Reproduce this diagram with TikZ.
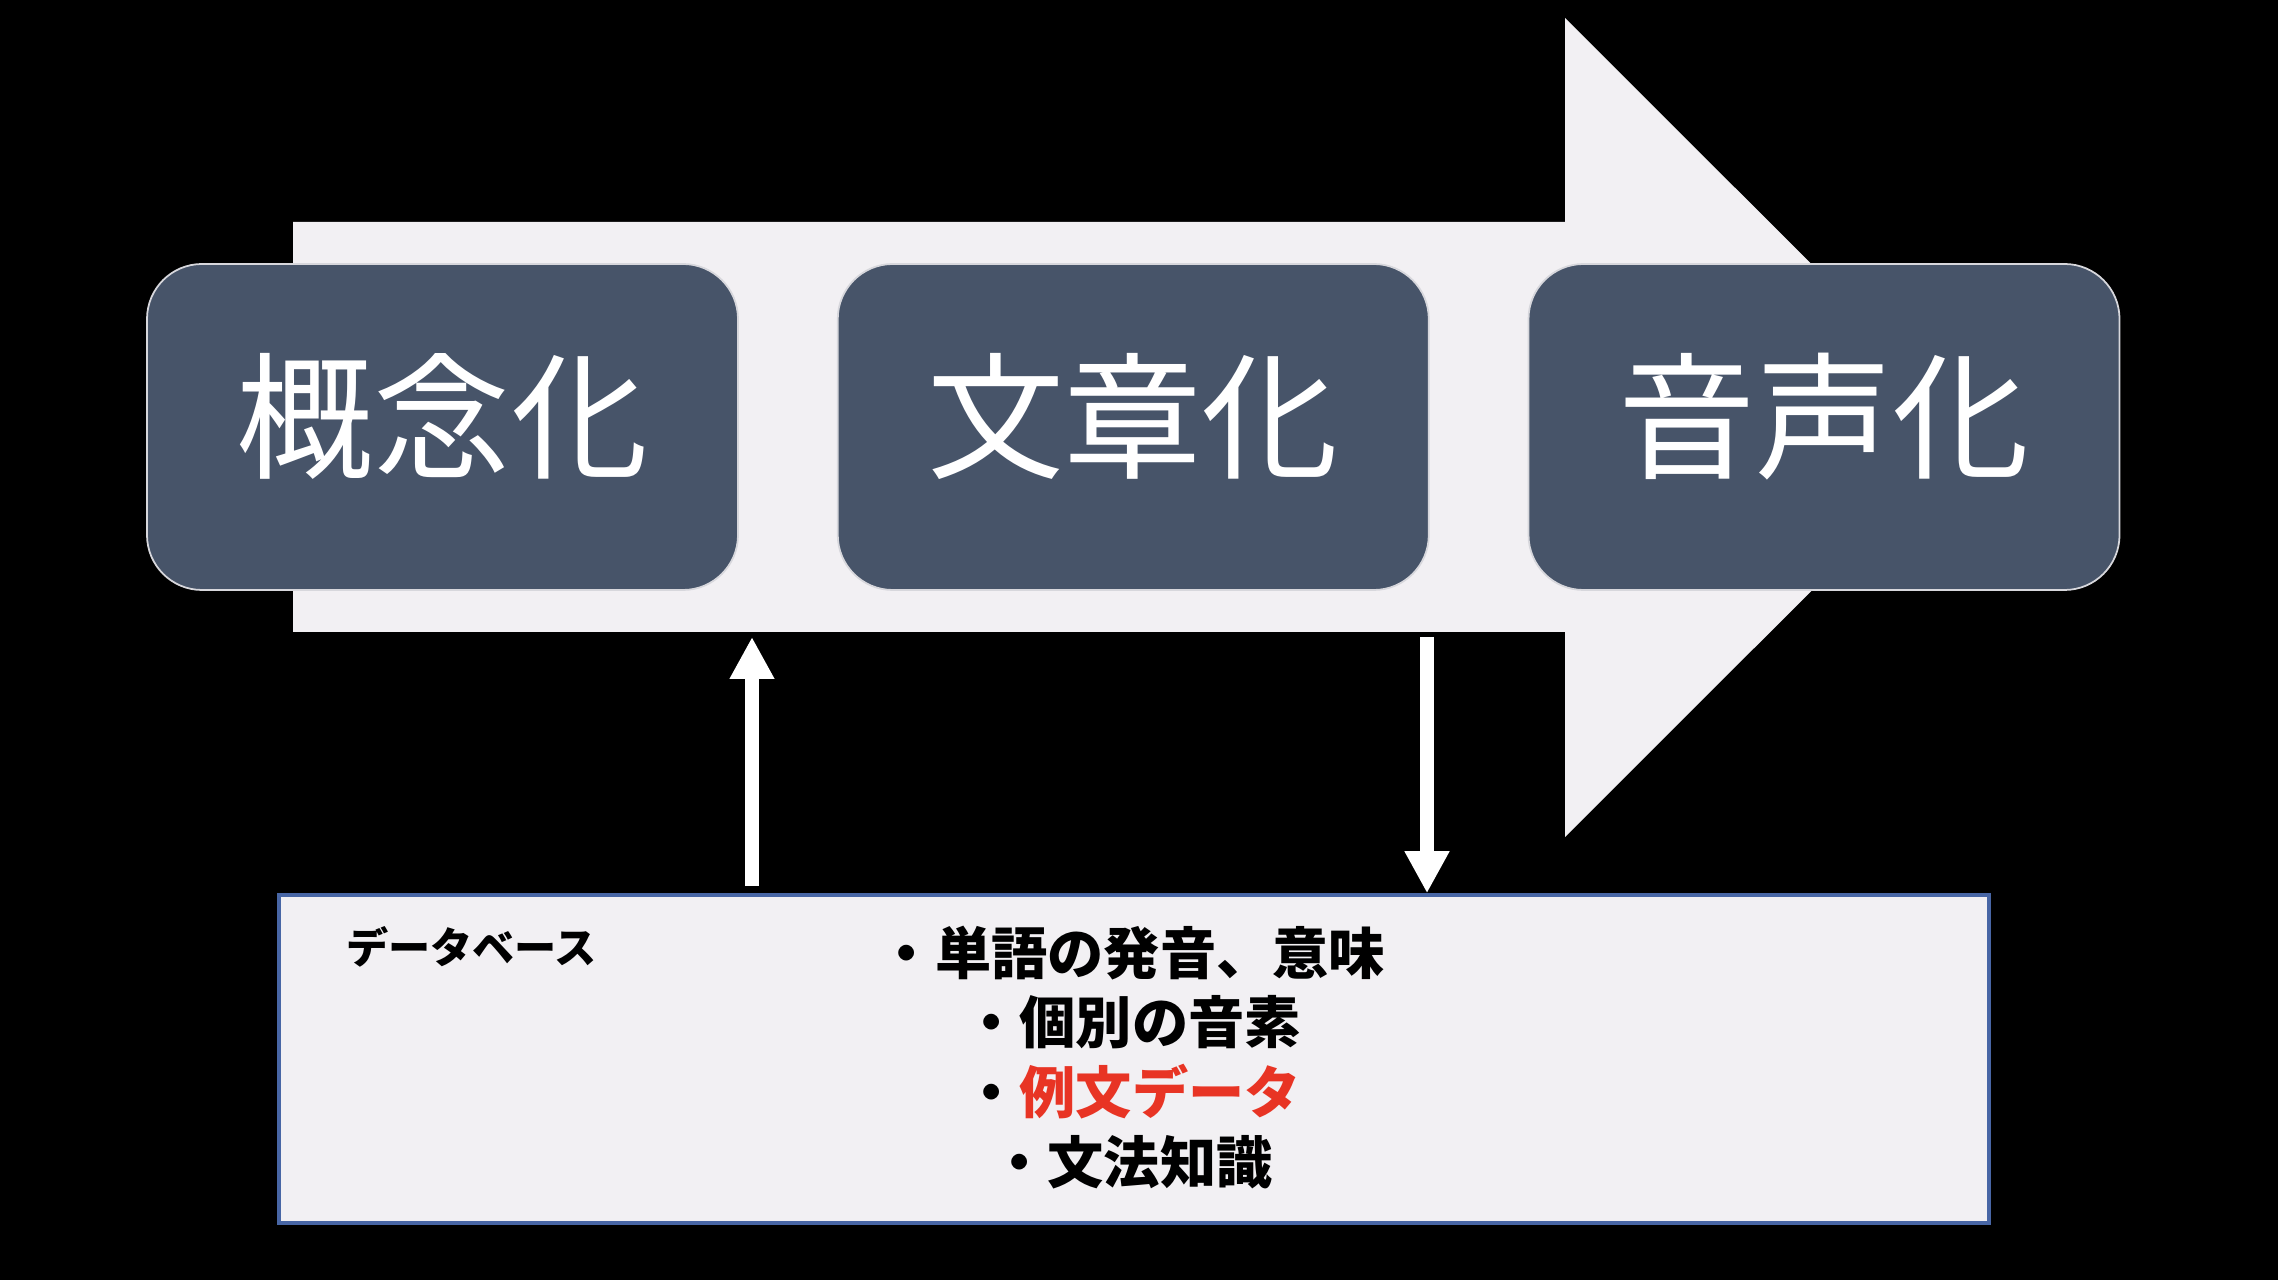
\documentclass[tikz,border=0pt]{standalone}
\usepackage{fontspec}
\newfontfamily\jpfont{Noto Sans CJK JP}
\usepackage{tikz}
\usetikzlibrary{positioning,arrows.meta}
\definecolor{stSlate}{RGB}{71,84,105}
\definecolor{stLight}{RGB}{242,240,243}
\definecolor{stEdge}{RGB}{215,215,220}
\definecolor{stBlue}{RGB}{72,102,165}
\definecolor{stRed}{RGB}{232,52,36}
\tikzset{
    base/.style={align=center},
    stage/.style={base, rectangle, rounded corners=5.5mm, draw=stEdge, line width=0.5pt,
                  fill=stSlate, text=white, minimum width=5.91cm, minimum height=3.26cm,
                  text height=1.2cm, text depth=0.36cm,
                  font=\jpfont\fontsize{39}{44}\selectfont},
    dbbox/.style={rectangle, draw=stBlue, line width=1pt, fill=stLight,
                  minimum width=17.1cm, minimum height=3.28cm},
    flow/.style={-{Triangle[length=4.2mm,width=4.2mm]}, line width=1.4mm, white},
    item/.style={base, text=black, font=\jpfont\bfseries\fontsize{16}{19.9}\selectfont}
}

\begin{document}
\begin{tikzpicture}
  \fill[black] (0,0) rectangle (22.78,-12.8);
  \useasboundingbox (0,0) rectangle (22.78,-12.8);
  % big arrow behind the stages
  \fill[stLight] (2.93,-2.22) -- (15.65,-2.22) -- (15.65,-0.18) -- (19.75,-4.275)
    -- (15.65,-8.37) -- (15.65,-6.32) -- (2.93,-6.32) -- cycle;

  \node[stage] (concept) at (4.425,-4.27) {概念化};
  \node[stage, right=0.98cm of concept] (sentence) {文章化};
  \node[stage, right=0.98cm of sentence] (speech) {音声化};

  \node[dbbox] (db) at (11.34,-10.59) {};
  \node[item, font=\jpfont\bfseries\fontsize{12}{14}\selectfont] (dblabel) at (4.715,-9.47) {データベース};
  \node[item] (list) at (11.32,-10.575) {・単語の発音、意味\\・個別の音素\\・{\color{stRed}例文データ}\\・文法知識};

  \coordinate (upEnd) at (7.52,-6.37);
  \coordinate (downStart) at (14.27,-6.37);
  \draw[flow] ([yshift=0.07cm]db.north -| upEnd) -- (upEnd);
  \draw[flow] (downStart) -- (db.north -| downStart);
\end{tikzpicture}
\end{document}
